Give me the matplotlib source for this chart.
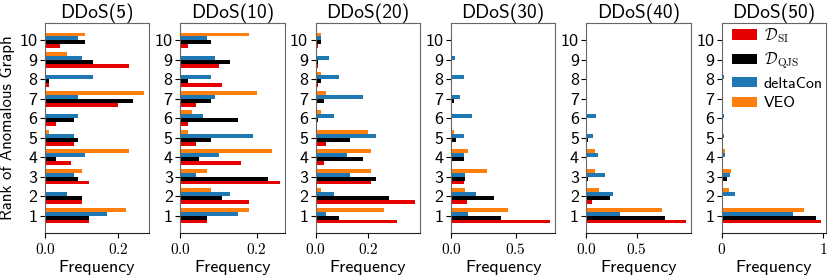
import matplotlib
matplotlib.use("Agg")
import matplotlib.pyplot as plt
import numpy as np
from matplotlib.ticker import FuncFormatter

plt.rcParams['font.family'] = ['cmss10', 'DejaVu Sans']
plt.rcParams['mathtext.fontset'] = 'cm'
plt.rcParams['axes.formatter.use_mathtext'] = True
plt.rcParams['axes.unicode_minus'] = False

ranks = list(range(1, 11))
titles = ["DDoS(5)", "DDoS(10)", "DDoS(20)", "DDoS(30)", "DDoS(40)", "DDoS(50)"]
labels = [r"$\mathcal{D}_{\mathrm{SI}}$", r"$\mathcal{D}_{\mathrm{QJS}}$", "deltaCon", "VEO"]
colors = ["#e60000", "#000000", "#1f77b4", "#ff7f0e"]

ddos5_si = [0.12, 0.10, 0.12, 0.07, 0.08, 0.03, 0.20, 0.01, 0.23, 0.04]
ddos5_qjs = [0.12, 0.10, 0.09, 0.03, 0.09, 0.08, 0.24, 0.01, 0.13, 0.11]
ddos5_dc = [0.17, 0.06, 0.08, 0.11, 0.08, 0.09, 0.09, 0.13, 0.10, 0.09]
ddos5_veo = [0.22, 0.0, 0.10, 0.23, 0.01, 0.0, 0.27, 0.0, 0.06, 0.11]

ddos10_si = [0.07, 0.18, 0.26, 0.16, 0.04, 0.02, 0.04, 0.11, 0.10, 0.02]
ddos10_qjs = [0.07, 0.11, 0.23, 0.05, 0.08, 0.15, 0.08, 0.02, 0.13, 0.08]
ddos10_dc = [0.15, 0.13, 0.04, 0.10, 0.19, 0.06, 0.09, 0.08, 0.09, 0.07]
ddos10_veo = [0.18, 0.08, 0.07, 0.24, 0.02, 0.03, 0.20, 0.0, 0.0, 0.18]

ddos20_si = [0.31, 0.38, 0.21, 0.03, 0.04, 0.0, 0.0, 0.01, 0.01, 0.01]
ddos20_qjs = [0.09, 0.28, 0.23, 0.18, 0.13, 0.01, 0.03, 0.02, 0.01, 0.02]
ddos20_dc = [0.04, 0.07, 0.13, 0.12, 0.23, 0.07, 0.18, 0.09, 0.05, 0.02]
ddos20_veo = [0.26, 0.02, 0.21, 0.21, 0.20, 0.02, 0.04, 0.02, 0.0, 0.02]

ddos30_si = [0.77, 0.12, 0.10, 0.01, 0.0, 0.0, 0.0, 0.0, 0.0, 0.0]
ddos30_qjs = [0.39, 0.33, 0.11, 0.10, 0.04, 0.01, 0.02, 0.0, 0.0, 0.0]
ddos30_dc = [0.13, 0.19, 0.11, 0.10, 0.10, 0.16, 0.07, 0.10, 0.03, 0.01]
ddos30_veo = [0.44, 0.11, 0.28, 0.13, 0.02, 0.0, 0.01, 0.01, 0.0, 0.0]

ddos40_si = [0.99, 0.05, 0.007, 0.0, 0.0, 0.0, 0.0, 0.0, 0.0, 0.0]
ddos40_qjs = [0.78, 0.235, 0.017, 0.005, 0.017, 0.0, 0.0, 0.0, 0.0, 0.0]
ddos40_dc = [0.33, 0.265, 0.18, 0.11, 0.06, 0.095, 0.01, 0.0, 0.0, 0.01]
ddos40_veo = [0.75, 0.126, 0.085, 0.08, 0.0, 0.0, 0.005, 0.005, 0.0, 0.0]

ddos50_si = [0.98, 0.01, 0.01, 0.0, 0.0, 0.0, 0.0, 0.0, 0.0, 0.0]
ddos50_qjs = [0.93, 0.0, 0.05, 0.0, 0.0, 0.0, 0.0, 0.0, 0.0, 0.0]
ddos50_dc = [0.70, 0.13, 0.08, 0.03, 0.02, 0.02, 0.0, 0.02, 0.0, 0.0]
ddos50_veo = [0.81, 0.07, 0.09, 0.03, 0.0, 0.0, 0.0, 0.0, 0.0, 0.0]

panels = [
    [ddos5_si, ddos5_qjs, ddos5_dc, ddos5_veo],
    [ddos10_si, ddos10_qjs, ddos10_dc, ddos10_veo],
    [ddos20_si, ddos20_qjs, ddos20_dc, ddos20_veo],
    [ddos30_si, ddos30_qjs, ddos30_dc, ddos30_veo],
    [ddos40_si, ddos40_qjs, ddos40_dc, ddos40_veo],
    [ddos50_si, ddos50_qjs, ddos50_dc, ddos50_veo],
]
xticks = [[0, 0.2], [0, 0.2], [0, 0.2], [0, 0.5], [0, 0.5], [0, 1]]

fig, axes = plt.subplots(1, 6, figsize=(8.3, 2.77), dpi=100)
fig.subplots_adjust(left=45/830, right=826/830, top=1-23/277, bottom=1-233/277, wspace=0.30)

h = 0.2
offsets = [-0.3, -0.1, 0.1, 0.3]
y = np.array(ranks)
for i, ax in enumerate(axes):
    for j in range(4):
        ax.barh(y + offsets[j], panels[i][j], height=h, color=colors[j], label=labels[j])
    ax.set_title(titles[i], fontsize=14, pad=3)
    ax.set_yticks(ranks)
    ax.set_yticklabels([str(r) for r in ranks], fontsize=13)
    ax.set_xticks(xticks[i])
    if i == 5:
        fmt = FuncFormatter(lambda v, p: "$%d$" % round(v))
    else:
        fmt = FuncFormatter(lambda v, p: "$%.1f$" % v)
    ax.xaxis.set_major_formatter(fmt)
    ax.tick_params(axis='x', labelsize=11, length=3.5, pad=3)
    ax.tick_params(axis='y', length=3.5, pad=2)
    ax.set_xlabel("Frequency", fontsize=13, labelpad=2)
    for s in ['top', 'right', 'left']:
        ax.spines[s].set_color('#666666')
    ax.spines['bottom'].set_color('#222222')

axes[0].set_ylabel("Rank of Anomalous Graph", fontsize=12, labelpad=3)
axes[5].legend(loc='upper right', frameon=False, fontsize=11.5, handlelength=1.6,
               handleheight=0.6, borderaxespad=0.1, borderpad=0.1,
               labelspacing=0.35, handletextpad=0.4)

fig.savefig("out.png", dpi=100)
